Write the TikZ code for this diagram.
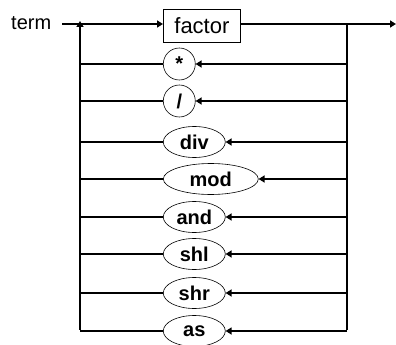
\documentclass[tikz,border=0pt]{standalone}
\usepackage{fontspec}
\setmainfont{Liberation Sans}
\usetikzlibrary{shapes.geometric,arrows.meta}
\begin{document}
\begin{tikzpicture}[x=1pt,y=-1pt,
  rail/.style={line width=2.6pt},
  tip/.style={-{Triangle[length=6pt,width=7pt]}},
  kw/.style={draw,ellipse,line width=0.6pt,inner sep=0pt,minimum width=62pt,minimum height=31pt,anchor=west,font=\fontsize{20}{20}\selectfont\bfseries},
  sym/.style={kw,minimum width=32pt,minimum height=32pt},
  boxnode/.style={draw,rectangle,line width=0.8pt,inner sep=0pt,minimum width=77pt,minimum height=33pt,anchor=west,font=\fontsize{22}{22}\selectfont}
]
\useasboundingbox (0,0) rectangle (396,345);
\node[anchor=west,inner sep=0pt,font=\fontsize{20}{20}\selectfont] (term) at (11,23) {term};
\coordinate (start) at (62,24);
\node[boxnode] (factor) at (163,26) {factor};
\coordinate (fin) at (396,24);
\coordinate (L0) at (80,24);
\coordinate (R0) at (347,24);
\node[sym] (mul) at (163,64) {*};
\node[sym] (dv) at (163,101) {/};
\node[kw] (div) at (163,142) {div};
\node[kw,minimum width=95pt] (mod) at (163,179) {mod};
\node[kw] (and) at (163,217) {and};
\node[kw] (shl) at (163,254) {shl};
\node[kw] (shr) at (163,293) {shr};
\node[kw] (as) at (163,331) {as};
\foreach \n [count=\i] in {mul,dv,div,mod,and,shl,shr,as}{
  \coordinate (L\i) at (80,0 |- \n.west);
  \coordinate (R\i) at (347,0 |- \n.west);
  \draw[rail] (L\i) -- (\n.west);
  \draw[rail,tip] (R\i) -- (\n.east);
}
\draw[rail,tip] (start) -- (factor.west |- start);
\draw[rail,tip] (factor.east |- start) -- (fin);
\draw[rail] ([yshift=-1.3pt]R0) -- ([yshift=1.3pt]R8);
\draw[rail,tip] ([yshift=1.3pt]L8) -- ([yshift=3pt]L0);
\end{tikzpicture}
\end{document}
